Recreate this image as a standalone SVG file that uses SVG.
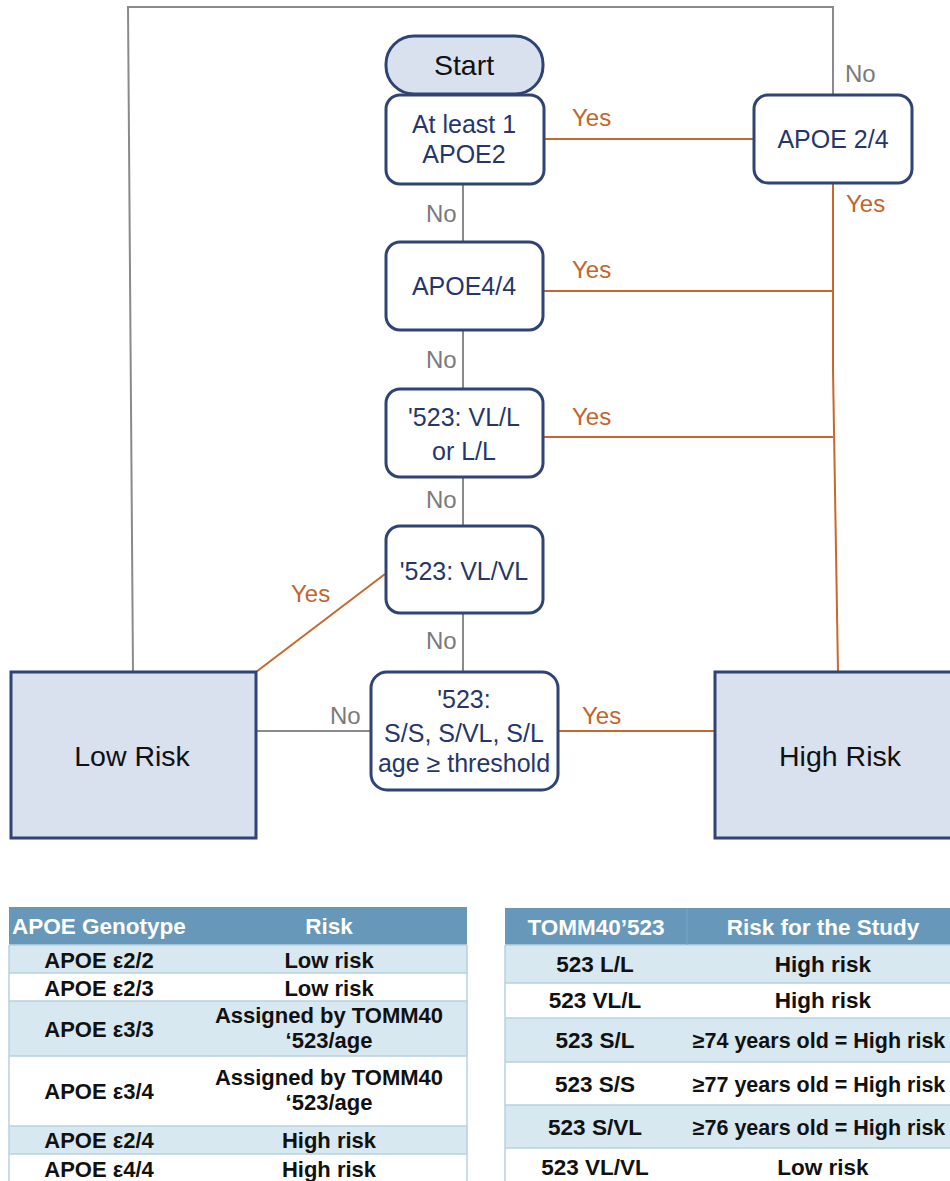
<svg xmlns="http://www.w3.org/2000/svg" width="950" height="1181" viewBox="0 0 950 1181">
<style>
.box{fill:#fff;stroke:#2f4474;stroke-width:3}
.risk{fill:#d9e0ee;stroke:#2f4474;stroke-width:3}
.t{font-family:"Liberation Sans",Arial,sans-serif;font-size:25px;fill:#27366a;text-anchor:middle}
.tk{font-family:"Liberation Sans",Arial,sans-serif;font-size:28.5px;fill:#111;text-anchor:middle}
.yes{font-family:"Liberation Sans",Arial,sans-serif;font-size:24px;fill:#c4642a}
.no{font-family:"Liberation Sans",Arial,sans-serif;font-size:24px;fill:#7a7a7a}
.g{stroke:#8a8a8a;stroke-width:2;fill:none}
.o{stroke:#c8682a;stroke-width:2;fill:none}
.th{font-family:"Liberation Sans",Arial,sans-serif;font-size:22.5px;font-weight:bold;fill:#fff;text-anchor:middle}
.td{font-family:"Liberation Sans",Arial,sans-serif;font-size:22px;font-weight:bold;fill:#111;text-anchor:middle}
.td2{font-family:"Liberation Sans",Arial,sans-serif;font-size:22.5px;font-weight:bold;fill:#111;text-anchor:middle}
.td3{font-family:"Liberation Sans",Arial,sans-serif;font-size:21.5px;font-weight:bold;fill:#111;text-anchor:middle}
.hd{fill:#6798ba}
.band{fill:#d8e8f0}
.wh{fill:#fff}
.sep{stroke:#b7d2e2;stroke-width:1.5}
</style>
<g id="connectors">
<polyline class="g" points="133,672 128,7 833,7 833,94"/>
<line class="g" x1="463" y1="184" x2="463" y2="241"/>
<line class="g" x1="463" y1="330" x2="463" y2="388"/>
<line class="g" x1="463" y1="477" x2="463" y2="525"/>
<line class="g" x1="463" y1="613" x2="463" y2="672"/>
<line class="g" x1="256" y1="731" x2="370" y2="731"/>
<line class="o" x1="544" y1="139" x2="753" y2="139"/>
<line class="o" x1="543" y1="291" x2="833" y2="291"/>
<line class="o" x1="543" y1="437" x2="833" y2="437"/>
<polyline class="o" points="833,183 833,370 838,672"/>
<line class="o" x1="256" y1="672" x2="385" y2="574"/>
<line class="o" x1="558" y1="731" x2="715" y2="731"/>
<text class="yes" x="572" y="126">Yes</text>
<text class="no" x="426" y="222">No</text>
<text class="yes" x="572" y="278">Yes</text>
<text class="no" x="426" y="368">No</text>
<text class="yes" x="572" y="425">Yes</text>
<text class="no" x="426" y="508">No</text>
<text class="yes" x="291" y="602">Yes</text>
<text class="no" x="426" y="649">No</text>
<text class="no" x="330" y="724">No</text>
<text class="yes" x="582" y="724">Yes</text>
<text class="no" x="845" y="82">No</text>
<text class="yes" x="846" y="212">Yes</text>
</g>
<g id="start">
<rect x="386" y="36" width="157" height="58" rx="28" fill="#d9e0ee" stroke="#2f4474" stroke-width="3"/>
<text class="tk" x="464" y="75">Start</text>
</g>
<g id="apoe2">
<rect class="box" x="386" y="95" width="158" height="89" rx="14"/>
<text class="t" x="464" y="133">At least 1</text>
<text class="t" x="464" y="163">APOE2</text>
</g>
<g id="apoe24">
<rect class="box" x="754" y="95" width="158" height="88" rx="14"/>
<text class="t" x="833" y="148">APOE 2/4</text>
</g>
<g id="apoe44">
<rect class="box" x="386" y="242" width="157" height="88" rx="14"/>
<text class="t" x="464" y="295">APOE4/4</text>
</g>
<g id="vll">
<rect class="box" x="386" y="389" width="157" height="88" rx="14"/>
<text class="t" x="464" y="426">'523: VL/L</text>
<text class="t" x="464" y="460">or L/L</text>
</g>
<g id="vlvl">
<rect class="box" x="386" y="526" width="157" height="87" rx="14"/>
<text class="t" x="464" y="580">'523: VL/VL</text>
</g>
<g id="ss">
<rect class="box" x="371" y="672" width="187" height="118" rx="16"/>
<text class="t" x="464" y="708">'523:</text>
<text class="t" x="464" y="742">S/S, S/VL, S/L</text>
<text class="t" x="464" y="772">age ≥ threshold</text>
</g>
<g id="lowrisk">
<rect class="risk" x="11" y="672" width="245" height="166"/>
<text class="tk" x="132" y="766">Low Risk</text>
</g>
<g id="highrisk">
<rect class="risk" x="715" y="672" width="245" height="166"/>
<text class="tk" x="840" y="766">High Risk</text>
</g>
<g id="table-apoe">
<rect class="hd" x="9" y="907" width="458" height="38"/>
<rect class="band" x="9" y="945" width="458" height="28"/>
<rect class="wh" x="9" y="973" width="458" height="28"/>
<rect class="band" x="9" y="1001" width="458" height="55"/>
<rect class="wh" x="9" y="1056" width="458" height="70"/>
<rect class="band" x="9" y="1126" width="458" height="28"/>
<rect class="wh" x="9" y="1154" width="458" height="27"/>
<line class="sep" x1="9" y1="945" x2="467" y2="945"/>
<line class="sep" x1="9" y1="973" x2="467" y2="973"/>
<line class="sep" x1="9" y1="1001" x2="467" y2="1001"/>
<line class="sep" x1="9" y1="1056" x2="467" y2="1056"/>
<line class="sep" x1="9" y1="1126" x2="467" y2="1126"/>
<line class="sep" x1="9" y1="1154" x2="467" y2="1154"/>
<line class="sep" x1="9" y1="945" x2="9" y2="1181"/>
<line class="sep" x1="467" y1="945" x2="467" y2="1181"/>
<text class="th" x="12" y="934" style="text-anchor:start">APOE Genotype</text>
<text class="th" x="329" y="934">Risk</text>
<text class="td" x="99" y="968">APOE ε2/2</text>
<text class="td" x="329" y="968">Low risk</text>
<text class="td" x="99" y="996">APOE ε2/3</text>
<text class="td" x="329" y="996">Low risk</text>
<text class="td" x="99" y="1037">APOE ε3/3</text>
<text class="td" x="329" y="1023">Assigned by TOMM40</text>
<text class="td" x="329" y="1048">‘523/age</text>
<text class="td" x="99" y="1099">APOE ε3/4</text>
<text class="td" x="329" y="1085">Assigned by TOMM40</text>
<text class="td" x="329" y="1110">‘523/age</text>
<text class="td" x="99" y="1148">APOE ε2/4</text>
<text class="td" x="329" y="1148">High risk</text>
<text class="td" x="99" y="1177">APOE ε4/4</text>
<text class="td" x="329" y="1177">High risk</text>
</g>
<g id="table-tomm40">
<rect class="hd" x="505" y="908" width="455" height="37"/>
<rect class="band" x="505" y="945" width="455" height="38"/>
<rect class="wh" x="505" y="983" width="455" height="35"/>
<rect class="band" x="505" y="1018" width="455" height="44"/>
<rect class="wh" x="505" y="1062" width="455" height="43"/>
<rect class="band" x="505" y="1105" width="455" height="43"/>
<rect class="wh" x="505" y="1148" width="455" height="33"/>
<line class="sep" x1="505" y1="945" x2="960" y2="945"/>
<line class="sep" x1="505" y1="983" x2="960" y2="983"/>
<line class="sep" x1="505" y1="1018" x2="960" y2="1018"/>
<line class="sep" x1="505" y1="1062" x2="960" y2="1062"/>
<line class="sep" x1="505" y1="1105" x2="960" y2="1105"/>
<line class="sep" x1="505" y1="1148" x2="960" y2="1148"/>
<line class="sep" x1="505" y1="945" x2="505" y2="1181"/>
<line x1="687" y1="908" x2="687" y2="945" stroke="#78a6c4" stroke-width="1"/>
<text class="th" x="596" y="935">TOMM40’523</text>
<text class="th" x="823" y="935">Risk for the Study</text>
<text class="td2" x="595" y="972">523 L/L</text>
<text class="td2" x="823" y="972">High risk</text>
<text class="td2" x="595" y="1008">523 VL/L</text>
<text class="td2" x="823" y="1008">High risk</text>
<text class="td2" x="595" y="1048">523 S/L</text>
<text class="td3" x="819" y="1048">≥74 years old = High risk</text>
<text class="td2" x="595" y="1092">523 S/S</text>
<text class="td3" x="819" y="1092">≥77 years old = High risk</text>
<text class="td2" x="595" y="1135">523 S/VL</text>
<text class="td3" x="819" y="1135">≥76 years old = High risk</text>
<text class="td2" x="595" y="1175">523 VL/VL</text>
<text class="td2" x="823" y="1175">Low risk</text>
</g>
</svg>
